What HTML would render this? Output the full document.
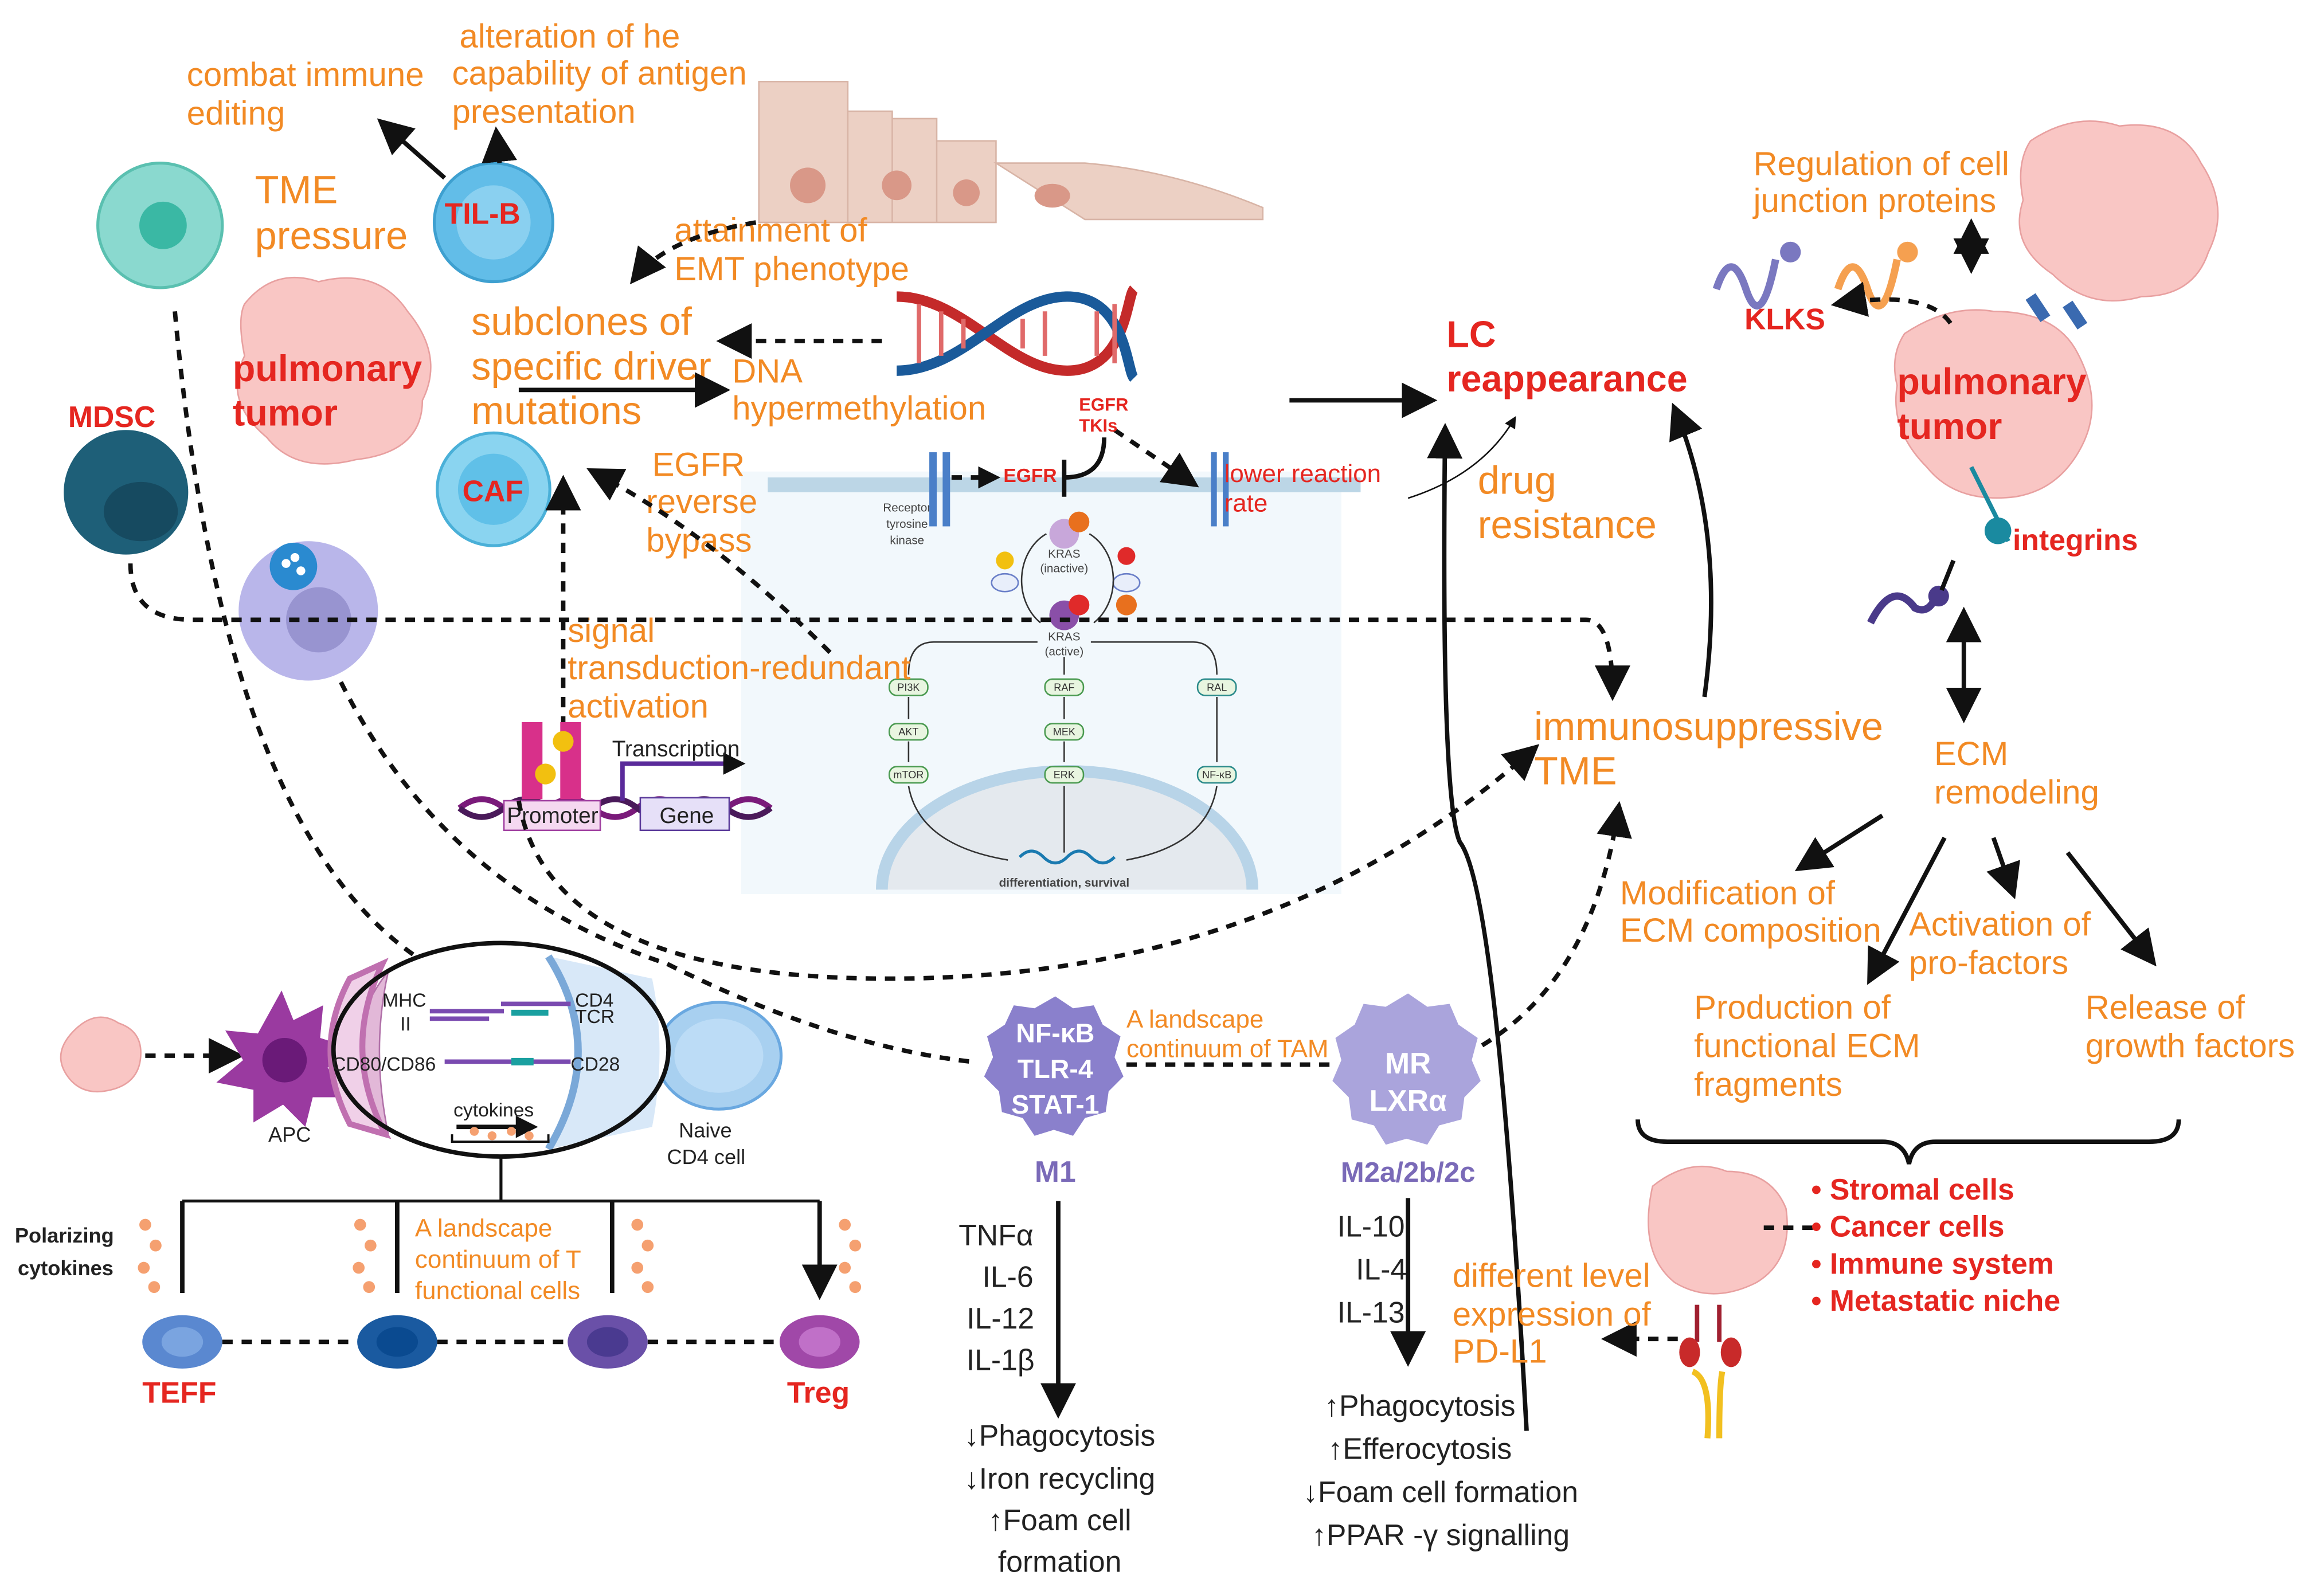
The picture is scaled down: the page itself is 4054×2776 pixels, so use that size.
<!DOCTYPE html>
<html><head><meta charset="utf-8"><style>
html,body{margin:0;padding:0;background:#fff}
svg{display:block}
text{font-family:"Liberation Sans",sans-serif}
.o{fill:#f28a24;font-size:22.5px}
.ob{fill:#f28a24;font-size:26.5px}
.r{fill:#e52620;font-weight:bold;font-size:25px}
.rs{fill:#e52620;font-weight:bold;font-size:20px}
.k{fill:#222;font-size:20px}
.d{stroke:#111;stroke-width:3;stroke-dasharray:7 6;fill:none}
.s{stroke:#111;stroke-width:3;fill:none}
</style></head><body>
<svg width="4054" height="2776" viewBox="0 0 1568 1073" preserveAspectRatio="none" xmlns="http://www.w3.org/2000/svg">
<defs>
<marker id="a" viewBox="0 0 10 10" refX="8" refY="5" markerWidth="5" markerHeight="5" orient="auto-start-reverse"><path d="M0,0L10,5L0,10z" fill="#111"/></marker>
<marker id="as" viewBox="0 0 10 10" refX="8" refY="5" markerWidth="8" markerHeight="8" orient="auto-start-reverse"><path d="M0,0L10,5L0,10z" fill="#111"/></marker>
</defs>
<rect width="1568" height="1073" fill="#fff"/>

<!-- signaling box -->
<rect x="500" y="318" width="405" height="285" fill="#f2f8fc"/>
<rect x="518" y="322" width="400" height="10" fill="#bcd6e6"/>
<path d="M595,600 A125,80 0 0 1 845,600" fill="#e4e9ee" stroke="#b8d4e8" stroke-width="8"/>
<g font-size="8" fill="#444" text-anchor="middle">
<text x="612" y="345">Receptor</text><text x="612" y="356">tyrosine</text><text x="612" y="367">kinase</text>
<text x="718" y="376">KRAS</text><text x="718" y="386">(inactive)</text>
<text x="718" y="432">KRAS</text><text x="718" y="442">(active)</text>
<text x="718" y="598" font-weight="bold">differentiation, survival</text>
</g>
<rect x="627" y="305" width="5" height="50" fill="#4a7fc8"/><rect x="636" y="305" width="5" height="50" fill="#4a7fc8"/>
<rect x="817" y="305" width="4" height="50" fill="#4a7fc8"/><rect x="825" y="305" width="4" height="50" fill="#4a7fc8"/>
<circle cx="718" cy="360" r="10" fill="#c8a7da"/><circle cx="728" cy="352" r="7" fill="#e8701e"/>
<circle cx="718" cy="415" r="10" fill="#8a4fa8"/><circle cx="728" cy="408" r="7" fill="#e02a2a"/>
<circle cx="760" cy="375" r="6" fill="#e02a2a"/><circle cx="760" cy="408" r="7" fill="#e8701e"/>
<circle cx="678" cy="378" r="6" fill="#f2c010"/>
<ellipse cx="678" cy="393" rx="9" ry="6" fill="#e8eefa" stroke="#6a7fc8"/><ellipse cx="760" cy="393" rx="9" ry="6" fill="#e8eefa" stroke="#6a7fc8"/>
<path d="M702,420 A30,35 0 0 1 706,360 M735,360 A30,35 0 0 1 738,420" stroke="#333" fill="none"/>
<g fill="#e8f5e0" stroke="#4a9a50" font-size="7" text-anchor="middle">
<rect x="600" y="458" width="26" height="11" rx="5"/><rect x="600" y="488" width="26" height="11" rx="5"/><rect x="600" y="517" width="26" height="11" rx="5"/>
<rect x="705" y="458" width="26" height="11" rx="5"/><rect x="705" y="488" width="26" height="11" rx="5"/><rect x="705" y="517" width="26" height="11" rx="5"/>
<rect x="808" y="458" width="26" height="11" rx="5" stroke="#2a8a8a"/><rect x="808" y="517" width="26" height="11" rx="5" stroke="#2a8a8a"/>
</g>
<g font-size="7" fill="#333" text-anchor="middle"><text x="613" y="466">PI3K</text><text x="613" y="496">AKT</text><text x="613" y="525">mTOR</text><text x="718" y="466">RAF</text><text x="718" y="496">MEK</text><text x="718" y="525">ERK</text><text x="821" y="466">RAL</text><text x="821" y="525">NF-κB</text></g>
<path d="M700,433 H630 Q613,433 613,455 M736,433 H805 Q821,433 821,455 M718,443V455 M613,470V485 M613,500V514 M718,470V485 M718,500V514 M821,470V514 M613,530 Q620,570 680,580 M718,530V575 M821,530 Q815,570 760,580" stroke="#333" stroke-width="1" fill="none"/>
<path d="M688,578 q8,-8 16,0 t16,0 t16,0 t16,0" stroke="#1a7ab0" stroke-width="2" fill="none"/>
<text x="677" y="325" fill="#e52620" font-size="13" font-weight="bold">EGFR</text>
<path d="M642,322 H672" class="d" stroke-width="2" marker-end="url(#a)"/>
<path d="M718,310 V335 M718,322 Q745,322 745,295" stroke="#111" stroke-width="3" fill="none"/>
<path d="M752,290 L805,326" class="d" marker-end="url(#as)"/>
<text x="728" y="277" fill="#e52620" font-size="12" font-weight="bold">EGFR</text>
<text x="728" y="291" fill="#e52620" font-size="12" font-weight="bold">TKIs</text>
<text x="826" y="325" class="rs" style="font-weight:normal;font-size:17px">lower reaction</text>
<text x="826" y="345" class="rs" style="font-weight:normal;font-size:17px">rate</text>

<!-- epithelium -->
<path d="M512,55 h60 v95 h-60z M572,75 h30 v75 h-30z M602,80 h30 v70h-30z M632,95 h40 v55h-40z M672,110 h60 q60,5 120,30 v8 h-120z" fill="#ecd0c4" stroke="#d8b4a6"/>
<circle cx="545" cy="125" r="12" fill="#d99888"/><circle cx="605" cy="125" r="10" fill="#d99888"/><circle cx="652" cy="130" r="9" fill="#d99888"/><ellipse cx="710" cy="132" rx="12" ry="8" fill="#d99888"/>

<!-- DNA -->
<path d="M605,200 C650,200 680,250 720,250 S760,200 765,195" stroke="#c42a2a" stroke-width="7" fill="none"/>
<path d="M605,250 C650,250 680,200 720,200 S760,250 765,255" stroke="#1a5a9a" stroke-width="7" fill="none"/>
<g stroke="#e06a6a" stroke-width="3"><path d="M620,205V245 M635,210V240 M650,215V235 M690,215V235 M705,210V240 M740,210V240 M752,205V245"/></g>

<!-- cells left -->
<circle cx="108" cy="152" r="42" fill="#8ad9cf" stroke="#5ac0b0" stroke-width="2"/><circle cx="110" cy="152" r="16" fill="#3ab8a4"/>
<circle cx="333" cy="150" r="40" fill="#62bde8" stroke="#3ea0d0" stroke-width="2"/><circle cx="333" cy="150" r="25" fill="#8ad0f0"/>
<text x="300" y="151" class="rs">TIL-B</text>
<path d="M300,120 L258,83" class="s" marker-end="url(#as)"/><path d="M337,110 L335,90" class="s" marker-end="url(#as)"/>
<text x="126" y="58" class="o">combat immune</text><text x="126" y="84" class="o">editing</text>
<text x="310" y="32" class="o">alteration of he</text><text x="305" y="57" class="o">capability of antigen</text><text x="305" y="83" class="o">presentation</text>
<text x="172" y="137" class="ob">TME</text><text x="172" y="168" class="ob">pressure</text>
<path d="M165,205 q20,-25 50,-15 q40,-10 60,20 q25,30 10,60 q0,35 -45,40 q-40,10 -60,-15 q-30,-25 -15,-55 q-5,-25 0,-35z" fill="#f9c6c4" stroke="#e8a0a0"/>
<text x="157" y="257" class="r">pulmonary</text><text x="157" y="287" class="r">tumor</text>
<text x="46" y="288" class="rs">MDSC</text>
<circle cx="85" cy="332" r="42" fill="#1e5f78"/><ellipse cx="95" cy="345" rx="25" ry="20" fill="#164a60"/>
<circle cx="333" cy="330" r="38" fill="#8ad4f0" stroke="#4ab0d8" stroke-width="2"/><circle cx="333" cy="330" r="24" fill="#60c0e8"/>
<text x="312" y="338" class="rs">CAF</text>
<circle cx="208" cy="412" r="47" fill="#b9b6ea"/><circle cx="215" cy="418" r="22" fill="#9894d0"/><circle cx="198" cy="382" r="16" fill="#2a8ad0"/>
<circle cx="193" cy="380" r="3" fill="#fff"/><circle cx="203" cy="385" r="3" fill="#fff"/><circle cx="199" cy="376" r="3" fill="#fff"/>

<text x="455" y="163" class="o">attainment of</text><text x="455" y="189" class="o">EMT phenotype</text>
<text x="318" y="226" class="ob">subclones of</text><text x="318" y="256" class="ob">specific driver</text><text x="318" y="286" class="ob">mutations</text>
<text x="494" y="258" class="o">DNA</text><text x="494" y="283" class="o">hypermethylation</text>
<path d="M350,263 H488" class="s" marker-end="url(#as)"/>
<path d="M595,230 H488" class="d" marker-end="url(#as)"/>
<path d="M510,150 Q450,160 428,188" class="d" marker-end="url(#as)"/>
<text x="440" y="321" class="o">EGFR</text><text x="436" y="346" class="o">reverse</text><text x="436" y="372" class="o">bypass</text>
<text x="383" y="433" class="o">signal</text><text x="383" y="458" class="o">transduction-redundant</text><text x="383" y="484" class="o">activation</text>
<path d="M380,490 V325" class="d" marker-end="url(#as)"/>
<path d="M560,440 Q480,360 400,318" class="d" marker-end="url(#as)"/>

<!-- promoter -->
<path d="M310,545 q15,-12 30,0 t30,0 t30,0 t30,0 t30,0 t30,0 t30,0" stroke="#7a1a7a" stroke-width="4" fill="none"/>
<path d="M310,545 q15,12 30,0 t30,0 t30,0 t30,0 t30,0 t30,0 t30,0" stroke="#4a1a5a" stroke-width="4" fill="none"/>
<rect x="340" y="540" width="65" height="20" fill="#f5d8f0" stroke="#a040a0"/><text x="342" y="555" font-size="15" fill="#222">Promoter</text>
<rect x="432" y="538" width="60" height="22" fill="#e6e0f8" stroke="#5a3a9a"/><text x="445" y="555" font-size="15" fill="#222">Gene</text>
<rect x="352" y="487" width="14" height="52" fill="#d8308a"/><rect x="378" y="487" width="14" height="52" fill="#d8308a"/>
<circle cx="380" cy="500" r="7" fill="#f2c010"/><circle cx="368" cy="522" r="7" fill="#f2c010"/>
<path d="M420,540 V515 H500" stroke="#5a2a9a" stroke-width="3" fill="none" marker-end="url(#a)"/>
<text x="413" y="510" font-size="15" fill="#222">Transcription</text>

<!-- LC -->
<text x="976" y="234" class="r">LC</text><text x="976" y="264" class="r">reappearance</text>
<path d="M870,270 H965" class="s" marker-end="url(#as)"/>
<text x="997" y="333" class="ob">drug</text><text x="997" y="363" class="ob">resistance</text>
<path d="M950,336 Q1000,320 1022,282" stroke="#111" stroke-width="1" fill="none" marker-end="url(#as)"/>
<path d="M1030,965 Q1010,600 985,568 Q972,540 975,290" stroke="#111" stroke-width="3" fill="none" marker-end="url(#as)"/>
<path d="M1150,470 Q1165,360 1130,276" class="s" marker-end="url(#as)"/>
<text x="1035" y="499" class="ob">immunosuppressive</text><text x="1035" y="529" class="ob">TME</text>

<!-- right tumor -->
<path d="M1370,95 q30,-20 60,-10 q40,-5 55,25 q20,30 5,60 q-10,30 -45,30 q-35,10 -60,-15 q-30,-20 -20,-50 q-5,-25 5,-40z" fill="#f9c6c4" stroke="#e8a0a0"/>
<path d="M1285,225 q30,-20 60,-15 q40,0 55,25 q20,35 5,65 q-15,30 -45,35 q-40,5 -60,-20 q-25,-25 -20,-55 q-5,-20 5,-35z" fill="#f9c6c4" stroke="#e8a0a0"/>
<text x="1280" y="266" class="r">pulmonary</text><text x="1280" y="296" class="r">tumor</text>
<text x="1183" y="118" class="o">Regulation of cell</text><text x="1183" y="143" class="o">junction proteins</text>
<path d="M1330,152 V180" class="s" marker-start="url(#as)" marker-end="url(#as)"/>
<path d="M1158,195 q10,-30 20,0 t20,-20" stroke="#7a78c0" stroke-width="5" fill="none"/><circle cx="1208" cy="170" r="7" fill="#7a78c0"/>
<path d="M1240,195 q10,-30 20,0 t20,-20" stroke="#f5a050" stroke-width="5" fill="none"/><circle cx="1287" cy="170" r="7" fill="#f5a050"/>
<text x="1177" y="222" class="rs">KLKS</text>
<path d="M1316,218 Q1300,195 1240,205" class="d" marker-end="url(#as)"/>
<path d="M1370,200 l10,15 M1395,205 l10,15" stroke="#3a6ab0" stroke-width="8"/>
<path d="M1330,315 l25,50" stroke="#1a8aa0" stroke-width="3"/><circle cx="1348" cy="358" r="9" fill="#1a8aa0"/>
<text x="1358" y="371" class="rs">integrins</text>
<path d="M1262,420 q15,-30 30,-10 q10,5 15,-10" stroke="#4a3a8a" stroke-width="5" fill="none"/><circle cx="1308" cy="402" r="7" fill="#4a3a8a"/>
<path d="M1318,378 l-8,20" stroke="#111" stroke-width="3"/>
<path d="M1325,483 V414" class="s" marker-start="url(#as)" marker-end="url(#as)"/>
<text x="1305" y="516" class="o">ECM</text><text x="1305" y="542" class="o">remodeling</text>
<path d="M1270,550 L1215,585" class="s" marker-end="url(#as)"/>
<path d="M1312,565 L1262,660" class="s" marker-end="url(#as)"/>
<path d="M1345,565 L1358,602" class="s" marker-end="url(#as)"/>
<path d="M1395,575 L1452,648" class="s" marker-end="url(#as)"/>
<text x="1093" y="610" class="o">Modification of</text><text x="1093" y="635" class="o">ECM composition</text>
<text x="1288" y="631" class="o">Activation of</text><text x="1288" y="657" class="o">pro-factors</text>
<text x="1143" y="687" class="o">Production of</text><text x="1143" y="713" class="o">functional ECM</text><text x="1143" y="739" class="o">fragments</text>
<text x="1407" y="687" class="o">Release of</text><text x="1407" y="713" class="o">growth factors</text>
<path d="M1105,755 Q1105,770 1125,770 H1270 Q1285,770 1288,785 Q1291,770 1306,770 H1450 Q1470,770 1470,755" class="s"/>
<path d="M1115,800 q25,-20 50,-10 q30,0 40,25 q5,35 -20,50 q-30,15 -55,0 q-25,-20 -15,-65z" fill="#f9c6c4" stroke="#e8a0a0"/>
<path d="M1190,828 H1225" class="d"/>
<path d="M1145,880 V905 M1160,880 V905" stroke="#a02030" stroke-width="3"/><ellipse cx="1140" cy="912" rx="7" ry="10" fill="#c82a2a"/><ellipse cx="1168" cy="912" rx="7" ry="10" fill="#c82a2a"/>
<path d="M1142,925 Q1155,930 1152,970 M1162,925 Q1160,935 1160,970" stroke="#f2c020" stroke-width="4" fill="none"/>
<text x="1222" y="809" class="rs">• Stromal cells</text><text x="1222" y="834" class="rs">• Cancer cells</text><text x="1222" y="859" class="rs">• Immune system</text><text x="1222" y="884" class="rs">• Metastatic niche</text>
<path d="M1132,903 H1085" class="d" marker-end="url(#as)"/>
<text x="980" y="868" class="o">different level</text><text x="980" y="894" class="o">expression of</text><text x="980" y="919" class="o">PD-L1</text>

<!-- macrophages -->
<path d="M712,672 l12,8 14,-2 6,13 12,8 -4,14 6,13 -10,10 -2,14 -14,4 -8,12 -13,-4 -13,4 -8,-12 -14,-4 -2,-14 -10,-10 6,-13 -4,-14 12,-8 6,-13 14,2z" fill="#8a80cc"/>
<g fill="#fff" font-weight="bold" font-size="18" text-anchor="middle"><text x="712" y="703">NF-κB</text><text x="712" y="727">TLR-4</text><text x="712" y="751">STAT-1</text></g>
<text x="712" y="797" text-anchor="middle" font-weight="bold" font-size="20" fill="#7a6ab8">M1</text>
<path d="M950,670 l13,9 15,-2 6,14 13,9 -4,15 6,14 -11,11 -2,15 -15,4 -8,13 -14,-4 -14,4 -8,-13 -15,-4 -2,-15 -11,-11 6,-14 -4,-15 13,-9 6,-14 15,2z" fill="#aaa4dc"/>
<g fill="#fff" font-weight="bold" font-size="20" text-anchor="middle"><text x="950" y="724">MR</text><text x="950" y="749">LXRα</text></g>
<text x="950" y="797" text-anchor="middle" font-weight="bold" font-size="19" fill="#7a6ab8">M2a/2b/2c</text>
<text x="760" y="693" fill="#f28a24" font-size="17">A landscape</text><text x="760" y="713" fill="#f28a24" font-size="17">continuum of TAM</text>
<path d="M760,718 H900" class="d" stroke-width="2"/>
<g class="k" text-anchor="middle"><text x="672" y="840">TNFα</text><text x="680" y="868">IL-6</text><text x="675" y="896">IL-12</text><text x="675" y="924">IL-1β</text>
<text x="715" y="975">↓Phagocytosis</text><text x="715" y="1004">↓Iron recycling</text><text x="715" y="1032">↑Foam cell</text><text x="715" y="1060">formation</text>
<text x="925" y="834">IL-10</text><text x="932" y="863">IL-4</text><text x="925" y="892">IL-13</text>
<text x="958" y="955">↑Phagocytosis</text><text x="958" y="984">↑Efferocytosis</text><text x="972" y="1013">↓Foam cell formation</text><text x="972" y="1042">↑PPAR -γ signalling</text></g>
<path d="M714,810 V952" class="s" marker-end="url(#as)"/>
<path d="M950,808 V917" class="s" marker-end="url(#as)"/>

<!-- dashed long connectors -->
<path d="M88,380 Q88,418 130,418 H1070 Q1088,418 1088,468" class="d" marker-end="url(#as)"/>
<path d="M118,210 Q150,560 285,648" class="d"/>
<path d="M230,460 Q300,600 450,650 Q560,705 655,716" class="d"/>
<path d="M350,540 Q370,660 600,660 Q860,660 1035,505" class="d" marker-end="url(#as)"/>
<path d="M1000,705 Q1075,660 1092,545" class="d" marker-end="url(#as)"/>

<!-- antigen presentation -->
<path d="M50,695 q15,-15 30,-5 q15,5 15,20 q0,20 -20,25 q-20,5 -30,-10 q-10,-15 5,-30z" fill="#f9c6c4" stroke="#e8a0a0"/>
<path d="M98,712 H160" class="d" marker-end="url(#as)"/>
<path d="M190,668 l8,20 20,-10 -2,22 25,8 -20,12 15,20 -25,0 -5,20 -15,-15 -20,12 0,-22 -25,-5 18,-15 -12,-20 22,2z" fill="#9a3aa0"/><circle cx="192" cy="715" r="15" fill="#6a1a78"/>
<text x="181" y="770" font-size="14" fill="#222">APC</text>
<ellipse cx="485" cy="712" rx="42" ry="36" fill="#a8d0f0" stroke="#6aa8e0" stroke-width="2"/><ellipse cx="485" cy="712" rx="30" ry="25" fill="#bcdcf6"/>
<text x="458" y="767" font-size="14" fill="#222">Naive</text><text x="450" y="785" font-size="14" fill="#222">CD4 cell</text>
<ellipse cx="338" cy="708" rx="113" ry="72" fill="#fff"/>
<path d="M262,655 Q220,708 262,765 Q250,708 262,655z" fill="#e2b8d8" stroke="#b070a8"/>
<path d="M236,660 Q210,708 236,758 L260,765 Q230,708 258,650z" fill="#f0d0e8" stroke="#c070b0" stroke-width="4"/>
<path d="M370,645 Q410,708 370,775 L440,760 Q450,708 440,660z" fill="#d8e8f8"/>
<path d="M370,645 Q410,708 370,775" stroke="#7aa8d8" stroke-width="5" fill="none"/>
<ellipse cx="338" cy="708" rx="113" ry="72" fill="none" stroke="#111" stroke-width="3"/>
<g font-size="13" fill="#222"><text x="258" y="679">MHC</text><text x="270" y="695">II</text><text x="224" y="722">CD80/CD86</text><text x="388" y="679">CD4</text><text x="388" y="690">TCR</text><text x="385" y="722">CD28</text><text x="306" y="753">cytokines</text></g>
<path d="M290,682 H340 M290,687 H330 M338,677 H385 M300,716 H345 M350,716 H385" stroke="#7a4ab0" stroke-width="3"/>
<path d="M345,716 H360" stroke="#1aa0a0" stroke-width="5"/><path d="M345,683 H370" stroke="#1aa0a0" stroke-width="4"/>
<path d="M308,760 H360" class="s" stroke-width="2" marker-end="url(#a)"/>
<path d="M305,765 v5 h65 v-5" stroke="#111" stroke-width="1.5" fill="none"/>
<g fill="#f5a070"><circle cx="320" cy="763" r="3"/><circle cx="332" cy="766" r="3"/><circle cx="345" cy="763" r="3"/><circle cx="357" cy="766" r="3"/></g>
<path d="M338,780 V810 M123,810 H553" stroke="#111" stroke-width="2"/>
<path d="M123,810 V872 M268,810 V872 M413,810 V872 M553,810 V872" class="s" stroke-width="2" marker-end="url(#as)"/>
<ellipse cx="123" cy="905" rx="27" ry="18" fill="#5a88d0"/><ellipse cx="123" cy="905" rx="14" ry="10" fill="#7aa4e0"/>
<ellipse cx="268" cy="905" rx="27" ry="18" fill="#1a5aa0"/><ellipse cx="268" cy="905" rx="14" ry="10" fill="#0a4a90"/>
<ellipse cx="410" cy="905" rx="27" ry="18" fill="#6a50a8"/><ellipse cx="410" cy="905" rx="14" ry="10" fill="#4a3a90"/>
<ellipse cx="553" cy="905" rx="27" ry="18" fill="#a048a8"/><ellipse cx="553" cy="905" rx="14" ry="10" fill="#c070c8"/>
<path d="M150,905 H240 M295,905 H383 M437,905 H526" class="d" stroke-width="3"/>
<text x="96" y="946" class="rs">TEFF</text><text x="531" y="946" class="rs">Treg</text>
<text x="10" y="838" font-size="14" font-weight="bold" fill="#222">Polarizing</text><text x="12" y="860" font-size="14" font-weight="bold" fill="#222">cytokines</text>
<text x="280" y="834" fill="#f28a24" font-size="17">A landscape</text><text x="280" y="855" fill="#f28a24" font-size="17">continuum of T</text><text x="280" y="876" fill="#f28a24" font-size="17">functional cells</text>
<g fill="#f5a070"><circle cx="98" cy="826" r="4"/><circle cx="105" cy="840" r="4"/><circle cx="97" cy="855" r="4"/><circle cx="104" cy="868" r="4"/>
<circle cx="243" cy="826" r="4"/><circle cx="250" cy="840" r="4"/><circle cx="242" cy="855" r="4"/><circle cx="249" cy="868" r="4"/>
<circle cx="430" cy="826" r="4"/><circle cx="437" cy="840" r="4"/><circle cx="430" cy="855" r="4"/><circle cx="437" cy="868" r="4"/>
<circle cx="570" cy="826" r="4"/><circle cx="577" cy="840" r="4"/><circle cx="570" cy="855" r="4"/><circle cx="577" cy="868" r="4"/></g>
</svg>
</body></html>
